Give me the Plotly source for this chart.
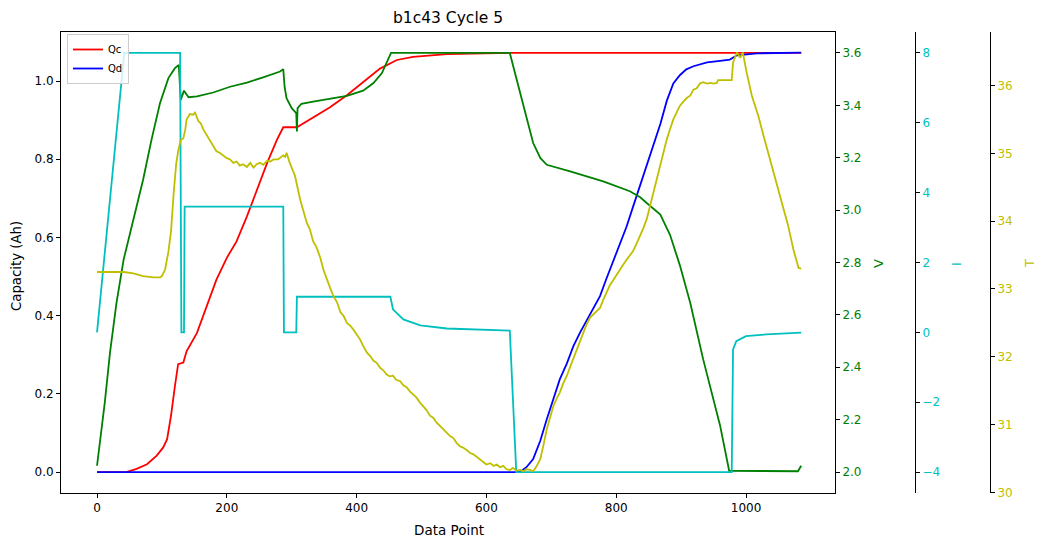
import plotly.graph_objects as go

# ---------------- data ----------------
qc_x = [0, 45, 61, 77, 92, 102, 108, 114, 120, 125, 133, 138, 154, 169, 184, 200, 215, 231, 246, 262, 277, 287,
        308, 333, 359, 385, 410, 436, 462, 487, 539, 590, 636, 1085]
qc_y = [0.0, 0.0, 0.008, 0.020, 0.042, 0.063, 0.084, 0.144, 0.220, 0.276, 0.280, 0.309, 0.356, 0.424, 0.492,
        0.548, 0.590, 0.654, 0.722, 0.790, 0.849, 0.882, 0.882, 0.907, 0.933, 0.964, 0.998, 1.032, 1.054, 1.062,
        1.069, 1.071, 1.072, 1.072]

qd_x = [0, 648, 655, 662, 672, 683, 693, 703, 713, 724, 734, 744, 755, 765, 775, 785, 796, 806, 816, 826, 837, 847,
        852, 862, 868, 878, 883, 888, 898, 908, 919, 940, 960, 975, 986, 1017, 1085]
qd_y = [0.0, 0.0, 0.004, 0.013, 0.033, 0.080, 0.135, 0.186, 0.237, 0.278, 0.322, 0.356, 0.390, 0.420, 0.450, 0.495,
        0.543, 0.585, 0.628, 0.679, 0.735, 0.780, 0.810, 0.860, 0.890, 0.950, 0.970, 0.994, 1.015, 1.030, 1.038,
        1.048, 1.052, 1.055, 1.066, 1.071, 1.073]

v_x = [0, 5, 12, 20, 30, 41, 56, 71, 84, 97, 110, 120, 126, 129, 134, 141, 154, 179, 205, 231, 256, 282, 287,
       289, 292, 300, 307, 308, 309, 315, 333, 359, 385, 410, 426, 439, 446, 453, 636, 647, 652, 662, 672, 683,
       693, 729, 780, 821, 837, 847, 868, 883, 898, 914, 934, 960, 974, 1080, 1085]
v_y = [2.024, 2.126, 2.266, 2.456, 2.646, 2.811, 2.964, 3.116, 3.269, 3.408, 3.504, 3.542, 3.554, 3.421, 3.456,
       3.431, 3.434, 3.449, 3.471, 3.487, 3.507, 3.529, 3.538, 3.471, 3.427, 3.389, 3.370, 3.300, 3.389, 3.406,
       3.414, 3.424, 3.436, 3.456, 3.485, 3.523, 3.561, 3.600, 3.600, 3.497, 3.446, 3.352, 3.256, 3.199, 3.173,
       3.148, 3.110, 3.072, 3.049, 3.027, 2.983, 2.905, 2.790, 2.646, 2.430, 2.178, 2.005, 2.003, 2.024]

i_x = [0, 42, 128, 130, 134, 135, 287, 288, 307, 308, 452, 456, 472, 498, 539, 590, 636, 646, 978, 980, 985,
       1000, 1031, 1085]
i_y = [0.0, 8.0, 8.0, 0.0, 0.0, 3.6, 3.6, 0.0, 0.0, 1.02, 1.02, 0.66, 0.37, 0.20, 0.11, 0.07, 0.05, -4.0, -4.0,
       -0.49, -0.25, -0.11, -0.06, -0.01]

t_x = [0, 41, 56, 71, 87, 97, 100, 105, 110, 114, 118, 122, 125, 129, 133, 136, 138, 143, 148, 151, 156, 160,
       164, 169, 174, 179, 184, 189, 195, 200, 205, 210, 215, 220, 225, 231, 236, 241, 246, 251, 256, 262, 267,
       272, 279, 287, 290, 292, 297, 305, 313, 318, 323, 328, 333, 338, 344, 349, 354, 359, 364, 370, 375, 380,
       385, 390, 395, 400, 405, 410, 416, 421, 426, 431, 436, 441, 446, 451, 456, 461, 467, 472, 477, 482, 487,
       492, 498, 503, 508, 513, 518, 523, 528, 534, 539, 544, 549, 554, 559, 564, 570, 575, 580, 585, 590, 595,
       600, 606, 611, 616, 621, 626, 631, 636, 641, 646, 652, 657, 662, 667, 672, 677, 683, 688, 693, 698, 703,
       708, 713, 718, 724, 729, 734, 739, 744, 749, 754, 760, 765, 770, 775, 780, 785, 790, 796, 801, 806, 811,
       816, 821, 826, 831, 837, 842, 847, 852, 857, 862, 868, 873, 878, 883, 888, 893, 898, 903, 909, 914, 919,
       924, 929, 934, 940, 945, 950, 955, 957, 978, 980, 986, 991, 995, 1001, 1009, 1019, 1027, 1037, 1047, 1057,
       1065, 1073, 1081, 1085]
t_y = [33.25, 33.25, 33.23, 33.19, 33.17, 33.17, 33.19, 33.29, 33.55, 33.85, 34.40, 34.85, 35.03, 35.20, 35.22,
       35.35, 35.50, 35.58, 35.57, 35.60, 35.48, 35.44, 35.35, 35.27, 35.21, 35.12, 35.03, 35.01, 34.97, 34.93,
       34.91, 34.86, 34.88, 34.82, 34.84, 34.80, 34.86, 34.79, 34.84, 34.86, 34.83, 34.89, 34.88, 34.91, 34.91,
       34.97, 34.95, 35.01, 34.86, 34.67, 34.32, 34.13, 33.98, 33.88, 33.70, 33.62, 33.46, 33.28, 33.14, 33.02,
       32.90, 32.80, 32.66, 32.60, 32.50, 32.46, 32.40, 32.33, 32.26, 32.16, 32.06, 32.01, 31.94, 31.91, 31.84,
       31.80, 31.74, 31.71, 31.72, 31.66, 31.64, 31.58, 31.55, 31.49, 31.45, 31.40, 31.32, 31.27, 31.21, 31.13,
       31.10, 31.03, 30.98, 30.92, 30.88, 30.83, 30.80, 30.73, 30.68, 30.66, 30.62, 30.58, 30.56, 30.52, 30.48,
       30.45, 30.41, 30.43, 30.39, 30.41, 30.37, 30.39, 30.34, 30.33, 30.36, 30.32, 30.33, 30.31, 30.34, 30.33,
       30.31, 30.38, 30.49, 30.70, 30.93, 31.10, 31.27, 31.38, 31.47, 31.60, 31.72, 31.85, 31.98, 32.11, 32.24,
       32.36, 32.47, 32.58, 32.63, 32.68, 32.72, 32.84, 32.95, 33.05, 33.14, 33.22, 33.29, 33.36, 33.43, 33.49,
       33.56, 33.66, 33.78, 33.90, 34.03, 34.22, 34.42, 34.62, 34.81, 35.01, 35.21, 35.36, 35.50, 35.60, 35.70,
       35.76, 35.82, 35.85, 35.94, 35.96, 36.03, 36.05, 36.03, 36.04, 36.03, 36.04, 36.08, 36.08, 36.34, 36.49,
       36.41, 36.49, 36.19, 35.85, 35.55, 35.26, 34.91, 34.57, 34.22, 33.93, 33.58, 33.31, 33.30]

x_ticks = [0, 200, 400, 600, 800, 1000]

# ---------------- figure ----------------
FONT = "DejaVu Sans"
GREEN = "#008000"
CYAN = "#00bfbf"
YEL = "#bfbf00"
LW = 1.8

fig = go.Figure()
fig.add_trace(go.Scatter(x=qc_x, y=qc_y, mode="lines", name="Qc", line=dict(color="#ff0000", width=LW)))
fig.add_trace(go.Scatter(x=qd_x, y=qd_y, mode="lines", name="Qd", line=dict(color="#0000ff", width=LW)))
fig.add_trace(go.Scatter(x=v_x, y=v_y, mode="lines", name="V", yaxis="y2", showlegend=False,
                         line=dict(color=GREEN, width=LW)))
fig.add_trace(go.Scatter(x=i_x, y=i_y, mode="lines", name="I", yaxis="y3", showlegend=False,
                         line=dict(color=CYAN, width=LW)))
fig.add_trace(go.Scatter(x=t_x, y=t_y, mode="lines", name="T", yaxis="y4", showlegend=False,
                         line=dict(color=YEL, width=LW)))

L, R, T_, B = 61, 10, 32, 54
W, H = 1048, 547
pw = W - L - R
ph = H - T_ - B
def px(xp):
    return (xp - L) / pw
def py(yp):
    return (H - B - yp) / ph

common = dict(showgrid=False, zeroline=False, showline=True, linecolor="black", linewidth=1,
              ticks="outside", ticklen=4, tickcolor="black", tickwidth=1)

fig.update_layout(
    width=W, height=H,
    margin=dict(l=L, r=R, t=T_, b=B),
    paper_bgcolor="white", plot_bgcolor="white",
    font=dict(family=FONT, size=12, color="black"),
    showlegend=True,
    legend=dict(x=px(67), y=py(34), xanchor="left", yanchor="top",
                bgcolor="rgba(255,255,255,0.8)", bordercolor="#cccccc", borderwidth=1,
                font=dict(size=10, family=FONT), itemwidth=30, tracegroupgap=0),
    xaxis=dict(domain=[0, px(835)], range=[-55.5, 1137.1], tickvals=x_ticks, mirror=True,
               tickfont=dict(size=12, color="black"), **common),
    yaxis=dict(range=[-0.0536, 1.1256], tick0=0, dtick=0.2, tickformat=".1f",
               tickfont=dict(size=12, color="black"), **common),
    yaxis2=dict(overlaying="y", side="right", anchor="x", range=[1.92, 3.68], tick0=2.0, dtick=0.2,
                tickformat=".1f", tickfont=dict(size=12, color=GREEN), **common),
    yaxis3=dict(overlaying="y", side="right", anchor="free", position=px(915), range=[-4.6, 8.6],
                tick0=0, dtick=2, tickfont=dict(size=12, color=CYAN), **common),
    yaxis4=dict(overlaying="y", side="right", anchor="free", position=px(990), range=[29.99, 36.79],
                tick0=30, dtick=1, tickfont=dict(size=12, color=YEL), **common),
    annotations=[
        dict(text="b1c43 Cycle 5", xref="paper", yref="paper", x=px(448), y=py(18), showarrow=False,
             xanchor="center", yanchor="middle", font=dict(size=15.5, family=FONT, color="black")),
        dict(text="Data Point", xref="paper", yref="paper", x=px(449), y=py(530), showarrow=False,
             xanchor="center", yanchor="middle", font=dict(size=13.5, family=FONT, color="black")),
        dict(text="Capacity (Ah)", xref="paper", yref="paper", x=px(16), y=py(266), showarrow=False,
             textangle=-90, xanchor="center", yanchor="middle", font=dict(size=13.3, family=FONT, color="black")),
        dict(text="V", xref="paper", yref="paper", x=px(878), y=py(264), showarrow=False,
             textangle=-90, xanchor="center", yanchor="middle", font=dict(size=13, family=FONT, color=GREEN)),
        dict(text="I", xref="paper", yref="paper", x=px(956), y=py(264), showarrow=False,
             textangle=-90, xanchor="center", yanchor="middle", font=dict(size=13, family=FONT, color=CYAN)),
        dict(text="T", xref="paper", yref="paper", x=px(1029), y=py(264), showarrow=False,
             textangle=-90, xanchor="center", yanchor="middle", font=dict(size=13, family=FONT, color=YEL)),
    ],
)

fig.write_html("out.html")
